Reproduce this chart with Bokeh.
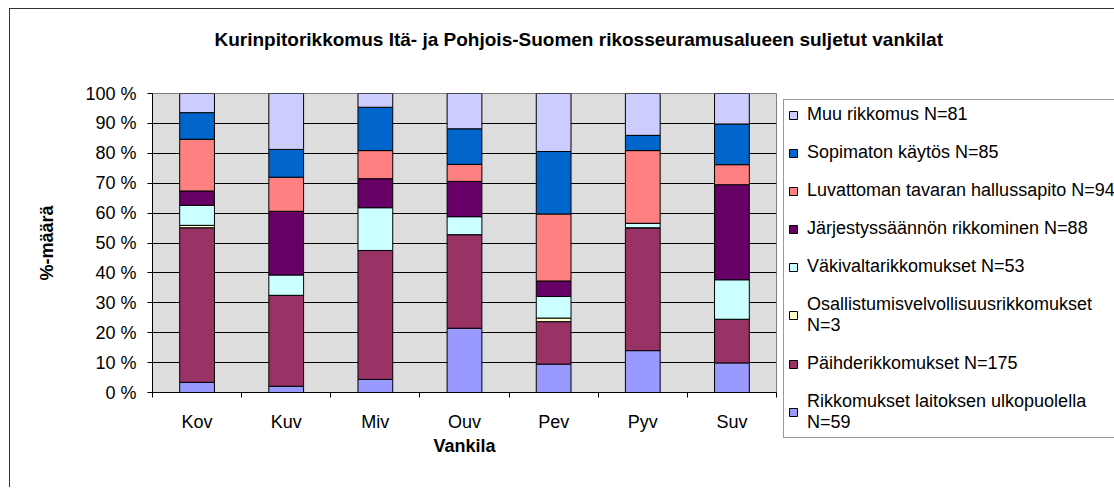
import numpy as np
from bokeh.plotting import figure
from bokeh.models import (ColumnDataSource, FixedTicker, Legend, LegendItem, Range1d, Title)
from bokeh.embed import file_html
from bokeh.resources import INLINE

# ---- data (percent shares) ----
categories = ["Kov", "Kuv", "Miv", "Ouv", "Pev", "Pyv", "Suv"]
series_names = [
    "Rikkomukset laitoksen ulkopuolella\nN=59",
    "Päihderikkomukset N=175",
    "Osallistumisvelvollisuusrikkomukset\nN=3",
    "Väkivaltarikkomukset N=53",
    "Järjestyssäännön rikkominen N=88",
    "Luvattoman tavaran hallussapito N=94",
    "Sopimaton käytös N=85",
    "Muu rikkomus N=81",
]
rikkomukset_ulkopuolella = [3.4, 2.1, 4.4, 21.5, 9.5, 14.0, 9.9]
paihderikkomukset = [51.7, 30.4, 43.1, 31.3, 14.2, 41.1, 14.6]
osallistumisvelvollisuus = [0.8, 0.0, 0.0, 0.0, 1.2, 0.0, 0.0]
vakivaltarikkomukset = [6.7, 6.8, 14.3, 6.0, 7.2, 1.5, 13.2]
jarjestyssaanto = [4.8, 21.3, 9.7, 11.8, 5.2, 0.0, 31.8]
luvaton_tavara = [17.3, 11.4, 9.4, 5.7, 22.4, 24.3, 6.7]
sopimaton_kaytos = [8.9, 9.3, 14.5, 11.9, 20.9, 5.1, 13.6]
muu_rikkomus = [6.4, 18.7, 4.6, 11.8, 19.4, 14.0, 10.2]
y_ticks = [0, 10, 20, 30, 40, 50, 60, 70, 80, 90, 100]

colors = ["#9999FF", "#993366", "#FFFFCC", "#CCFFFF", "#660066", "#FF8080", "#0066CC", "#CCCCFF"]

values = [rikkomukset_ulkopuolella, paihderikkomukset, osallistumisvelvollisuus,
          vakivaltarikkomukset, jarjestyssaanto, luvaton_tavara, sopimaton_kaytos, muu_rikkomus]
keys = [f"s{i}" for i in range(len(values))]
xpos = np.arange(len(categories)) + 0.5
data = {"x": xpos}
for k, v in zip(keys, values):
    data[k] = v
source = ColumnDataSource(data)

FONT = "Liberation Sans"
FS = "18px"

p = figure(output_backend="svg", toolbar_location=None,
           frame_width=624, frame_height=299,
           x_range=Range1d(0, len(categories)), y_range=Range1d(0, 100),
           min_border_left=142, min_border_right=335, min_border_top=84, min_border_bottom=95,
           background_fill_color="#DDDDDD", border_fill_color="white",
           outline_line_color="#808080")
p.margin = (8, 0, 0, 9)
p.styles = {"border-left": "1px solid #333333", "border-top": "1px solid #333333"}

renderers = p.vbar_stack(keys, x="x", width=0.39, source=source, fill_color=colors,
                         line_color="black", line_width=1)

# title (trailing blank lines lift it towards the top of the chart area)
t = Title(text="Kurinpitorikkomus Itä- ja Pohjois-Suomen rikosseuramusalueen suljetut vankilat\n\n",
          align="left", offset=62, text_font=FONT, text_font_size="19px",
          text_font_style="bold", text_color="black", standoff=3, text_line_height=1.0)
p.add_layout(t, "above")

# axes
p.xaxis.ticker = FixedTicker(ticks=list(xpos), minor_ticks=list(range(len(categories) + 1)))
p.xaxis.major_label_overrides = {float(x): c for x, c in zip(xpos, categories)}
p.xaxis.major_tick_out = 0
p.xaxis.major_tick_in = 0
p.xaxis.minor_tick_out = 5
p.xaxis.minor_tick_in = 0
p.xaxis.minor_tick_line_color = "black"
p.xaxis.axis_line_color = "black"
p.xaxis.major_label_standoff = 14
p.xaxis.major_label_text_font = FONT
p.xaxis.major_label_text_font_size = FS
p.xaxis.major_label_text_color = "black"
p.xaxis.axis_label = "Vankila"
p.xaxis.axis_label_text_font = FONT
p.xaxis.axis_label_text_font_size = FS
p.xaxis.axis_label_text_font_style = "bold"
p.xaxis.axis_label_text_color = "black"
p.xaxis.axis_label_standoff = 1

p.yaxis.ticker = FixedTicker(ticks=y_ticks)
p.yaxis.major_label_overrides = {v: f"{v} %" for v in y_ticks}
p.yaxis.major_tick_out = 5
p.yaxis.major_tick_in = 0
p.yaxis.minor_tick_line_color = None
p.yaxis.axis_line_color = "black"
p.yaxis.major_label_standoff = 11
p.yaxis.major_label_text_font = FONT
p.yaxis.major_label_text_font_size = FS
p.yaxis.major_label_text_color = "black"
p.yaxis.axis_label = "%-määrä"
p.yaxis.axis_label_text_font = FONT
p.yaxis.axis_label_text_font_size = FS
p.yaxis.axis_label_text_font_style = "bold"
p.yaxis.axis_label_text_color = "black"
p.yaxis.axis_label_standoff = 25

p.xgrid.grid_line_color = None
p.ygrid.ticker = FixedTicker(ticks=y_ticks)
p.ygrid.grid_line_color = "black"
p.ygrid.grid_line_width = 1

items = [LegendItem(label=name, renderers=[r]) for name, r in zip(series_names, renderers)]
items = items[::-1]
legend = Legend(items=items, location=(7, -46), orientation="vertical",
                label_text_font=FONT, label_text_font_size=FS, label_text_color="black",
                label_height=20, glyph_height=10, glyph_width=10, label_standoff=9,
                spacing=17, padding=4, margin=0,
                border_line_color="#333333", background_fill_color="white",
                background_fill_alpha=1.0, label_text_line_height=1.2)
p.add_layout(legend, "right")

open("out.html", "w").write(file_html(p, INLINE))
